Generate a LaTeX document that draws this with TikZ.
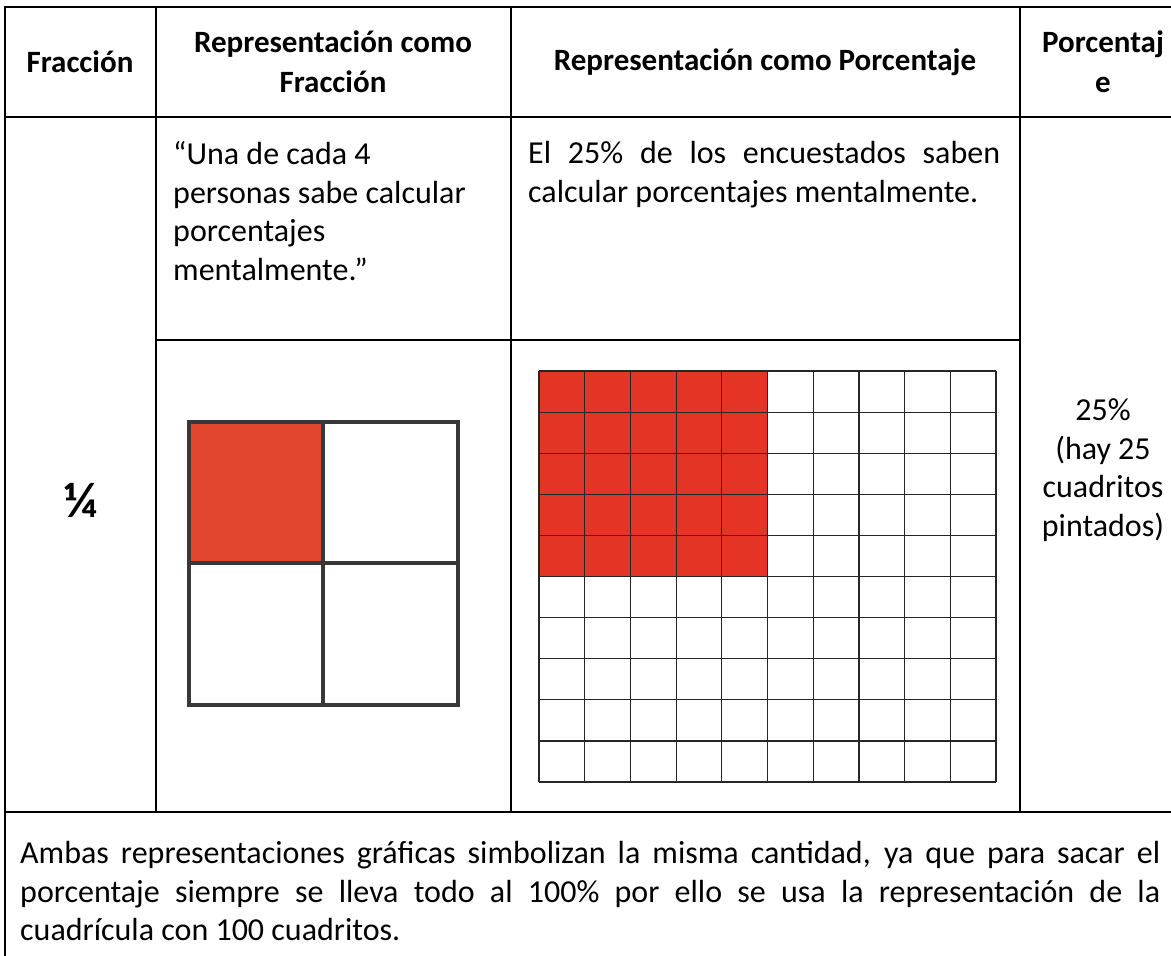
\documentclass[tikz,border=0pt]{standalone}
\usepackage{fontspec}
\setmainfont{Carlito}
\usetikzlibrary{positioning}
\definecolor{cellred}{HTML}{E33426}
\definecolor{quartred}{HTML}{E3462F}
\definecolor{quartline}{HTML}{383838}
\tikzset{
  rule/.style={line width=2.5pt},
  gridline/.style={line width=1.2pt, black!85},
  head/.style={font=\bfseries\fontsize{31}{40}\selectfont, align=center, inner sep=0pt},
  body/.style={font=\fontsize{32}{38.5}\selectfont, inner sep=0pt},
}
\begin{document}
\begin{tikzpicture}[x=1pt,y=-1pt]
            \useasboundingbox (0,0) rectangle (1171,956);
            \fill[white] (0,0) rectangle (1171,956);

            \coordinate (tl) at (5,7);
            \coordinate (tr) at (1186,7);
            \coordinate (bl) at (5,962);
            \coordinate (br) at (1186,962);

            \draw[rule] (bl) -- (tl) -- (tr) -- (br);
            \draw[rule] (5,117) -- (1186,117);
            \draw[rule] (156,340) -- (1020,340);
            \draw[rule] (5,812) -- (1186,812);
            \draw[rule] (156,7) -- (156,812);
            \draw[rule] (511,7) -- (511,812);
            \draw[rule] (1020,7) -- (1020,812);

            \node[head] (hfrac) at (80,62) {Fracción};
            \node[head] (hrepf) at (333,62) {Representación como\\Fracción};
            \node[head] (hrepp) at (765,62) {Representación como Porcentaje};
            \node[head] (hpct) at (1103,62) {Porcentaj\\e};

            \node[font=\bfseries\fontsize{50}{50}\selectfont, inner sep=0pt] (quarter) at (81,500) {¼};

            \node[body, anchor=north west, align=left] (txtfrac) at (173,141.5)
                {“Una de cada 4\\personas sabe calcular\\porcentajes\\mentalmente.”};
            \node[body, anchor=north west, align=left] (txtpct) at (528,141.5)
                {\makebox[472pt][s]{El 25\% de los encuestados saben}\\calcular porcentajes mentalmente.};

            \fill[quartred] (189,422) rectangle (323,563);
            \draw[quartline, line width=3.5pt] (189,422) rectangle (458,705);
            \draw[quartline, line width=3.5pt] (323,422) -- (323,705);
            \draw[quartline, line width=3.5pt] (189,563) -- (458,563);

            \fill[cellred] (539,371) rectangle (767.5,576.5);
            \foreach \i in {0,...,10} {
              \draw[gridline] (539+\i*45.7,371) -- ++(0,411);
              \draw[gridline] (539,371+\i*41.1) -- ++(457,0);
            }

            \node[body, align=center, anchor=north] (pctval) at (1103,398.5)
                {25\%\\(hay 25\\cuadritos\\pintados)};

            \node[body, anchor=north west, align=left] (nota) at (20,841.5)
                {\makebox[1140pt][s]{Ambas representaciones gráficas simbolizan la misma cantidad, ya que para sacar el}\\
                 \makebox[1140pt][s]{porcentaje siempre se lleva todo al 100\% por ello se usa la representación de la}\\
                 cuadrícula con 100 cuadritos.};
        \end{tikzpicture}
\end{document}
